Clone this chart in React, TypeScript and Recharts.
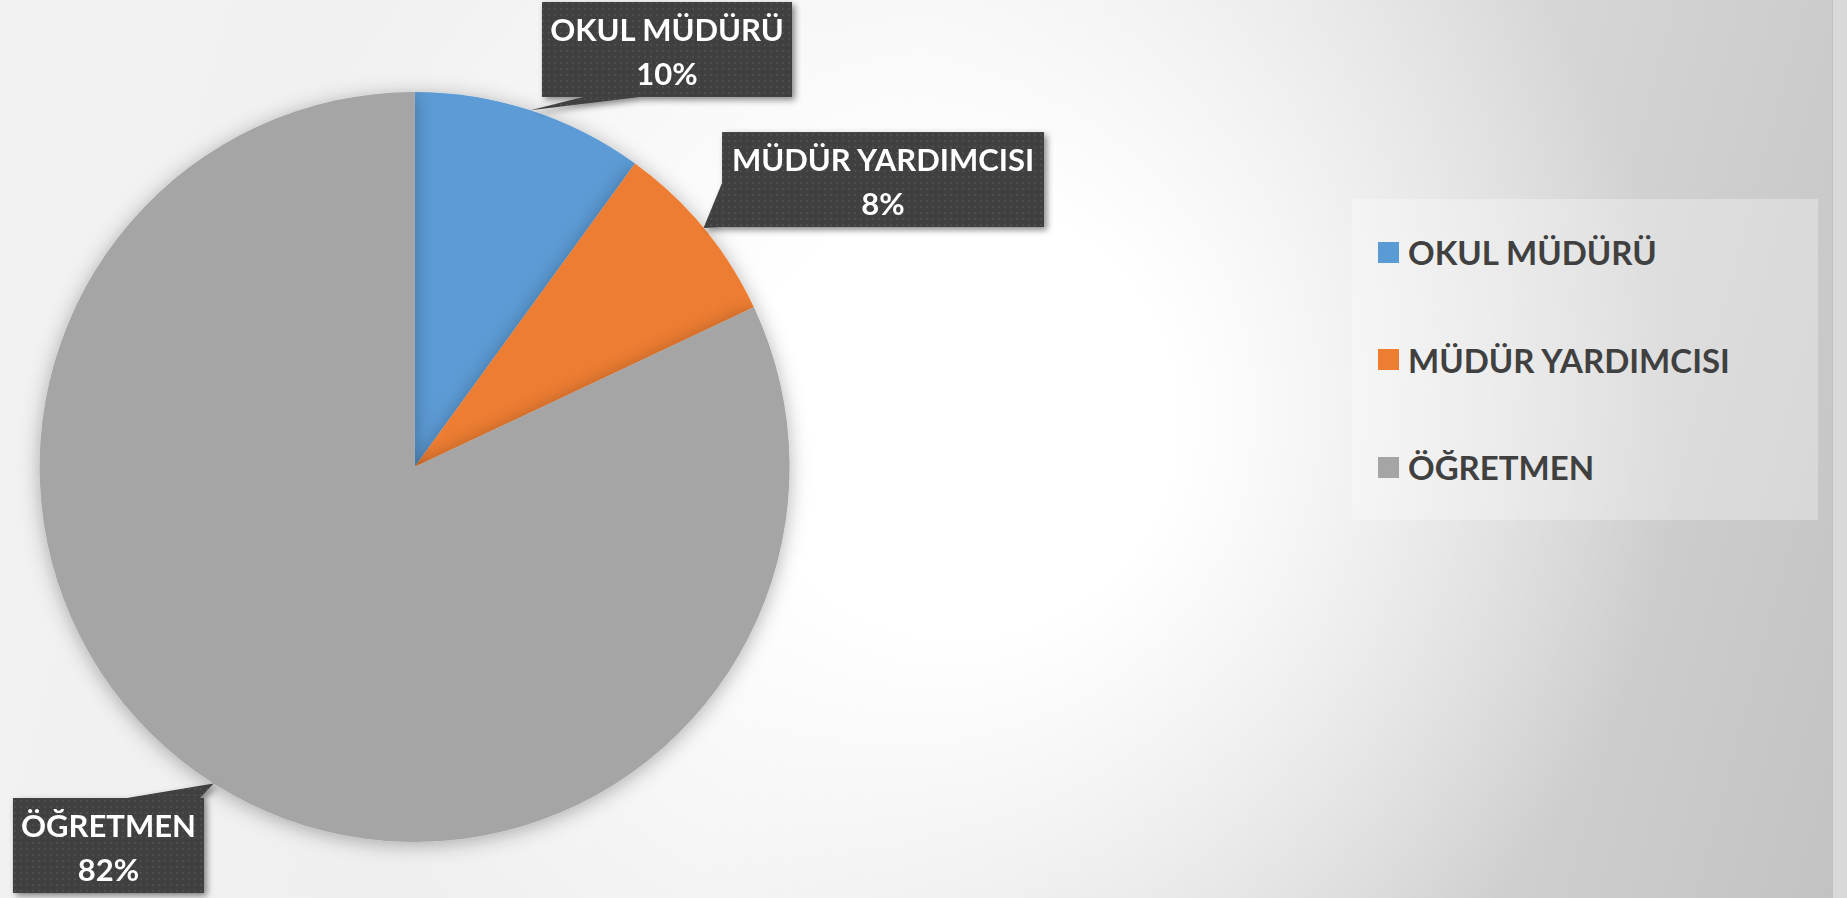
import { PieChart, Pie, Cell, Legend } from 'recharts'

const CATEGORIES = ['OKUL MÜDÜRÜ', 'MÜDÜR YARDIMCISI', 'ÖĞRETMEN']
const PERCENTS = [10, 8, 82]
const COLORS = ['#5b9bd5', '#ed7d31', '#a5a5a5']

const data = CATEGORIES.map((name, i) => ({ name, value: PERCENTS[i] }))

// callout boxes: offset of box top-left from the arc tip, size, and the two base points of the pointer
const CALLOUTS = [
  { dx: 11.5, dy: -108.4, w: 250, h: 95, base: [[41, 95], [98, 95]] },
  { dx: 18.5, dy: -95.9, w: 322, h: 95, base: [[0, 51], [0, 95]] },
  { dx: -200.7, dy: 14.4, w: 191, h: 95, base: [[114, 0], [187, 0]] },
]

const FONT = 'Lato, "Open Sans", sans-serif'
const RAD = Math.PI / 180

const renderLabel = (props: any) => {
  const { cx, cy, midAngle, outerRadius, index, name, value } = props
  const tx = cx + outerRadius * Math.cos(-midAngle * RAD)
  const ty = cy + outerRadius * Math.sin(-midAngle * RAD)
  const c = CALLOUTS[index]
  const bx = tx + c.dx
  const by = ty + c.dy
  const pts = `${tx},${ty} ${bx + c.base[0][0]},${by + c.base[0][1]} ${bx + c.base[1][0]},${by + c.base[1][1]}`
  return (
    <g key={`lbl-${index}`} filter="url(#boxShadow)">
      <polygon points={pts} fill="url(#dots)" />
      <rect x={bx} y={by} width={c.w} height={c.h} fill="url(#dots)" />
      <text
        x={bx + c.w / 2}
        y={by + 27}
        textAnchor="middle"
        dominantBaseline="central"
        fill="#ffffff"
        fontFamily={FONT}
        fontWeight={700}
        fontSize={31}
      >
        {name}
      </text>
      <text
        x={bx + c.w / 2}
        y={by + 71}
        textAnchor="middle"
        dominantBaseline="central"
        fill="#ffffff"
        fontFamily={FONT}
        fontWeight={700}
        fontSize={31}
      >
        {value}%
      </text>
    </g>
  )
}

// legend drawn in data order (recharts sorts its payload by name)
const renderLegend = () => (
  <div
    style={{
      width: 466,
      height: 321,
      background: 'rgba(255,255,255,0.3)',
      position: 'relative',
    }}
  >
    {CATEGORIES.map((name, i) => (
      <div
        key={name}
        style={{
          position: 'absolute',
          left: 26,
          top: 53 + i * 107.5 - 20,
          height: 40,
          display: 'flex',
          alignItems: 'center',
          whiteSpace: 'nowrap',
        }}
      >
        <span style={{ width: 21, height: 21, background: COLORS[i], display: 'inline-block', marginRight: 9 }} />
        <span style={{ fontFamily: FONT, fontWeight: 700, fontSize: 33, color: '#404040' }}>{name}</span>
      </div>
    ))}
  </div>
)

export default function App() {
  return (
    <div
      style={{
        position: 'absolute',
        left: 0,
        top: 0,
        width: 1847,
        height: 898,
        overflow: 'hidden',
        background:
          'radial-gradient(circle 720px at 960px 420px, rgba(255,255,255,1) 0%, rgba(255,255,255,1) 30%, rgba(255,255,255,0) 100%), linear-gradient(105deg, #f2f2f2 0%, #eeeeee 45%, #c2c2c2 100%)',
      }}
    >
      <div
        style={{
          position: 'absolute',
          left: 1832,
          top: 0,
          width: 15,
          height: 898,
          background: '#d9d9d9',
          borderLeft: '1px solid #c2c2c2',
        }}
      />
      <PieChart
        width={1847}
        height={898}
        margin={{ top: 0, right: 0, bottom: 0, left: 0 }}
        style={{ position: 'absolute', left: 0, top: 0 }}
      >
        <defs>
          <pattern id="dots" width="6" height="6" patternUnits="userSpaceOnUse">
            <rect width="6" height="6" fill="#3f3f3f" />
            <rect x="2" y="2" width="2" height="2" fill="#4e4e4e" />
          </pattern>
          <filter id="boxShadow" x="-20%" y="-20%" width="150%" height="150%">
            <feDropShadow dx="3" dy="3" stdDeviation="3" floodColor="#000" floodOpacity="0.45" />
          </filter>
          <filter id="pieShadow" x="-20%" y="-20%" width="140%" height="140%">
            <feDropShadow dx="0" dy="3" stdDeviation="10" floodColor="#000" floodOpacity="0.3" />
          </filter>
        </defs>
        <Pie
          data={data}
          dataKey="value"
          nameKey="name"
          cx={414.6}
          cy={467}
          outerRadius={375}
          startAngle={90}
          endAngle={-270}
          stroke="none"
          labelLine={false}
          label={renderLabel}
          isAnimationActive={false}
        >
          {data.map((d, i) => (
            <Cell key={d.name} fill={COLORS[i]} style={{ filter: 'url(#pieShadow)' }} />
          ))}
        </Pie>
        <Legend
          content={renderLegend}
          wrapperStyle={{ position: 'absolute', left: 1352, top: 199, width: 466, height: 321 }}
        />
      </PieChart>
    </div>
  )
}
